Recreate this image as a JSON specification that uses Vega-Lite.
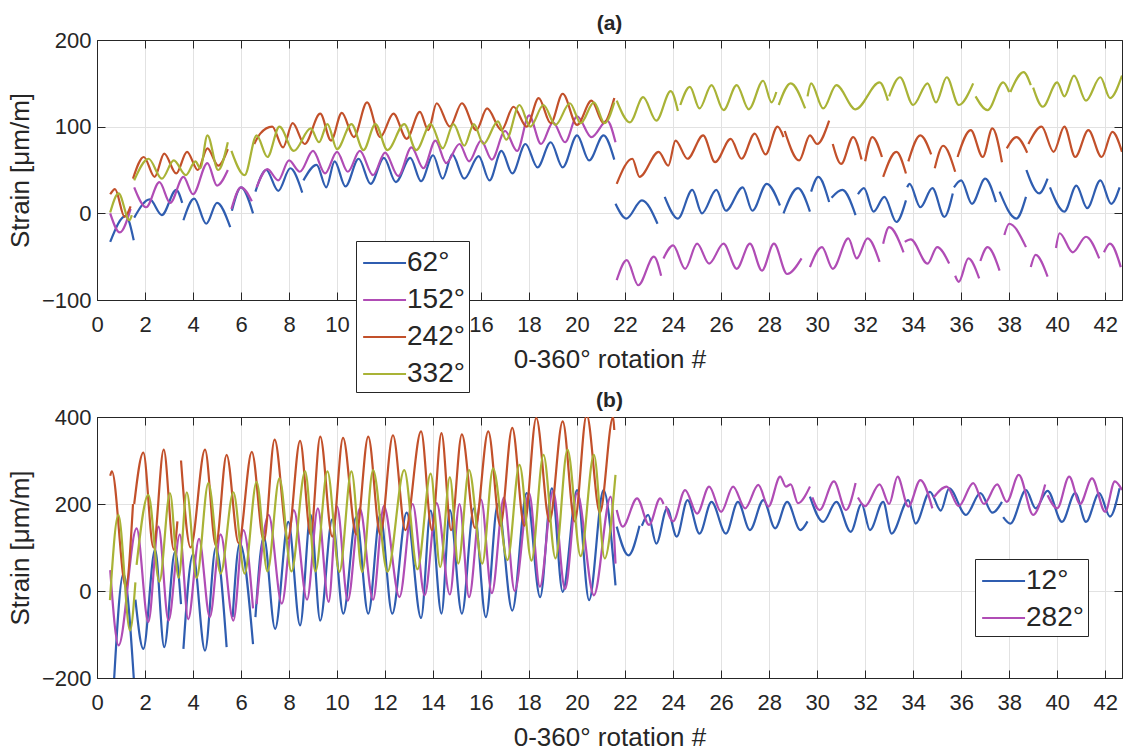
{
"$schema": "https://vega.github.io/schema/vega-lite/v6.json",
"padding": {"left": 6, "top": 12, "right": 5, "bottom": 5},
"spacing": 117,
"bounds": "flush",
"config": {
  "font": "Liberation Sans",
  "view": {"stroke": "#262626", "strokeWidth": 1},
  "axis": {"labelFont": "Liberation Sans", "labelFontSize": 22, "labelColor": "#262626", "titleFont": "Liberation Sans", "titleFontSize": 26, "titleFontWeight": "normal", "titleColor": "#262626", "domainColor": "#262626", "tickColor": "#262626", "tickSize": -8, "gridColor": "#e2e2e2", "gridWidth": 1, "labelPadding": 14, "titlePadding": 8},
  "axisX": {"labelPadding": 22, "titlePadding": 11},
  "title": {"font": "Liberation Sans", "fontSize": 21, "fontWeight": "bold", "color": "#262626", "offset": -5},
  "legend": {"labelFont": "Liberation Sans", "labelColor": "#262626"}
},
"datasets": {
"a": [
{"s":"62°","g":1,"x":0.55,"y":-33},{"s":"62°","g":1,"x":1.2,"y":-3},{"s":"62°","g":1,"x":1.53,"y":-31},
{"s":"62°","g":2,"x":1.55,"y":-5},{"s":"62°","g":2,"x":2.2,"y":16},{"s":"62°","g":2,"x":2.7,"y":-2},{"s":"62°","g":2,"x":3.3,"y":27},{"s":"62°","g":2,"x":3.55,"y":12},
{"s":"62°","g":3,"x":3.6,"y":-8},{"s":"62°","g":3,"x":4.05,"y":17},{"s":"62°","g":3,"x":4.55,"y":-12},{"s":"62°","g":3,"x":5.0,"y":12},{"s":"62°","g":3,"x":5.55,"y":-16},
{"s":"62°","g":4,"x":5.62,"y":3},{"s":"62°","g":4,"x":6.0,"y":30},{"s":"62°","g":4,"x":6.5,"y":0},
{"s":"62°","g":5,"x":6.6,"y":25},{"s":"62°","g":5,"x":7.05,"y":50},{"s":"62°","g":5,"x":7.55,"y":26},{"s":"62°","g":5,"x":8.05,"y":52},{"s":"62°","g":5,"x":8.55,"y":24},
{"s":"62°","g":6,"x":8.6,"y":38},{"s":"62°","g":6,"x":9.15,"y":56},{"s":"62°","g":6,"x":9.55,"y":30},{"s":"62°","g":6,"x":9.9,"y":60},{"s":"62°","g":6,"x":10.35,"y":31},{"s":"62°","g":6,"x":10.9,"y":63},{"s":"62°","g":6,"x":11.4,"y":34},{"s":"62°","g":6,"x":11.95,"y":64},{"s":"62°","g":6,"x":12.45,"y":36},{"s":"62°","g":6,"x":13.05,"y":64},{"s":"62°","g":6,"x":13.5,"y":37},{"s":"62°","g":6,"x":14.0,"y":67},{"s":"62°","g":6,"x":14.4,"y":40},{"s":"62°","g":6,"x":14.8,"y":68},{"s":"62°","g":6,"x":15.3,"y":40},{"s":"62°","g":6,"x":15.9,"y":66},{"s":"62°","g":6,"x":16.35,"y":38},{"s":"62°","g":6,"x":16.85,"y":72},{"s":"62°","g":6,"x":17.3,"y":46},{"s":"62°","g":6,"x":17.85,"y":80},{"s":"62°","g":6,"x":18.35,"y":53},{"s":"62°","g":6,"x":18.9,"y":82},{"s":"62°","g":6,"x":19.4,"y":53},{"s":"62°","g":6,"x":20.0,"y":90},{"s":"62°","g":6,"x":20.5,"y":61},{"s":"62°","g":6,"x":21.1,"y":90},{"s":"62°","g":6,"x":21.55,"y":62},
{"s":"62°","g":7,"x":21.6,"y":11},{"s":"62°","g":7,"x":22.05,"y":-6},{"s":"62°","g":7,"x":22.7,"y":15},{"s":"62°","g":7,"x":23.35,"y":-12},
{"s":"62°","g":8,"x":23.65,"y":19},{"s":"62°","g":8,"x":24.2,"y":-6},{"s":"62°","g":8,"x":24.8,"y":27},{"s":"62°","g":8,"x":25.2,"y":0},{"s":"62°","g":8,"x":25.8,"y":27},{"s":"62°","g":8,"x":26.2,"y":3},{"s":"62°","g":8,"x":26.9,"y":30},{"s":"62°","g":8,"x":27.3,"y":3},{"s":"62°","g":8,"x":27.9,"y":34},{"s":"62°","g":8,"x":28.45,"y":9},
{"s":"62°","g":9,"x":28.6,"y":0},{"s":"62°","g":9,"x":29.2,"y":29},{"s":"62°","g":9,"x":29.7,"y":2},
{"s":"62°","g":10,"x":29.75,"y":25},{"s":"62°","g":10,"x":30.05,"y":42},{"s":"62°","g":10,"x":30.5,"y":13},
{"s":"62°","g":11,"x":30.6,"y":18},{"s":"62°","g":11,"x":31.05,"y":27},{"s":"62°","g":11,"x":31.6,"y":-2},
{"s":"62°","g":12,"x":31.7,"y":22},{"s":"62°","g":12,"x":31.95,"y":29},{"s":"62°","g":12,"x":32.35,"y":2},{"s":"62°","g":12,"x":32.8,"y":19},{"s":"62°","g":12,"x":33.3,"y":-10},{"s":"62°","g":12,"x":33.7,"y":15},
{"s":"62°","g":13,"x":33.75,"y":30},{"s":"62°","g":13,"x":33.85,"y":34},{"s":"62°","g":13,"x":34.3,"y":7},{"s":"62°","g":13,"x":34.8,"y":29},{"s":"62°","g":13,"x":35.3,"y":-4},{"s":"62°","g":13,"x":35.65,"y":23},
{"s":"62°","g":14,"x":35.7,"y":30},{"s":"62°","g":14,"x":36.0,"y":38},{"s":"62°","g":14,"x":36.45,"y":11},{"s":"62°","g":14,"x":37.0,"y":40},{"s":"62°","g":14,"x":37.45,"y":13},
{"s":"62°","g":15,"x":37.6,"y":25},{"s":"62°","g":15,"x":38.3,"y":-6},{"s":"62°","g":15,"x":38.7,"y":19},
{"s":"62°","g":16,"x":38.72,"y":50},{"s":"62°","g":16,"x":39.25,"y":23},{"s":"62°","g":16,"x":39.6,"y":40},
{"s":"62°","g":17,"x":39.7,"y":30},{"s":"62°","g":17,"x":40.3,"y":2},{"s":"62°","g":17,"x":40.8,"y":32},{"s":"62°","g":17,"x":41.25,"y":6},{"s":"62°","g":17,"x":41.8,"y":38},{"s":"62°","g":17,"x":42.25,"y":11},{"s":"62°","g":17,"x":42.6,"y":30},

{"s":"152°","g":1,"x":0.55,"y":0},{"s":"152°","g":1,"x":0.95,"y":-22},{"s":"152°","g":1,"x":1.4,"y":5},
{"s":"152°","g":2,"x":1.55,"y":30},{"s":"152°","g":2,"x":2.05,"y":7},{"s":"152°","g":2,"x":2.6,"y":36},{"s":"152°","g":2,"x":3.05,"y":12},{"s":"152°","g":2,"x":3.6,"y":42},{"s":"152°","g":2,"x":4.0,"y":22},{"s":"152°","g":2,"x":4.6,"y":58},{"s":"152°","g":2,"x":5.0,"y":32},{"s":"152°","g":2,"x":5.45,"y":50},
{"s":"152°","g":3,"x":5.6,"y":5},{"s":"152°","g":3,"x":6.0,"y":30},{"s":"152°","g":3,"x":6.45,"y":14},
{"s":"152°","g":4,"x":6.65,"y":30},{"s":"152°","g":4,"x":7.1,"y":51},{"s":"152°","g":4,"x":7.55,"y":38},{"s":"152°","g":4,"x":8.0,"y":61},{"s":"152°","g":4,"x":8.45,"y":48},{"s":"152°","g":4,"x":9.0,"y":72},{"s":"152°","g":4,"x":9.5,"y":46},{"s":"152°","g":4,"x":10.0,"y":71},{"s":"152°","g":4,"x":10.45,"y":48},{"s":"152°","g":4,"x":10.95,"y":72},{"s":"152°","g":4,"x":11.5,"y":44},{"s":"152°","g":4,"x":12.0,"y":70},{"s":"152°","g":4,"x":12.55,"y":43},{"s":"152°","g":4,"x":13.1,"y":76},{"s":"152°","g":4,"x":13.6,"y":52},{"s":"152°","g":4,"x":14.1,"y":84},{"s":"152°","g":4,"x":14.55,"y":58},{"s":"152°","g":4,"x":15.1,"y":80},{"s":"152°","g":4,"x":15.5,"y":60},{"s":"152°","g":4,"x":16.0,"y":84},{"s":"152°","g":4,"x":16.45,"y":62},{"s":"152°","g":4,"x":17.0,"y":95},{"s":"152°","g":4,"x":17.5,"y":72},{"s":"152°","g":4,"x":18.0,"y":113},{"s":"152°","g":4,"x":18.5,"y":80},{"s":"152°","g":4,"x":19.0,"y":105},{"s":"152°","g":4,"x":19.5,"y":82},{"s":"152°","g":4,"x":20.0,"y":112},{"s":"152°","g":4,"x":20.6,"y":88},{"s":"152°","g":4,"x":21.25,"y":107},{"s":"152°","g":4,"x":21.6,"y":82},
{"s":"152°","g":5,"x":21.65,"y":-77},{"s":"152°","g":5,"x":22.07,"y":-54},{"s":"152°","g":5,"x":22.55,"y":-83},{"s":"152°","g":5,"x":23.2,"y":-50},{"s":"152°","g":5,"x":23.5,"y":-72},
{"s":"152°","g":6,"x":23.6,"y":-52},{"s":"152°","g":6,"x":24.0,"y":-37},{"s":"152°","g":6,"x":24.5,"y":-64},{"s":"152°","g":6,"x":25.0,"y":-35},{"s":"152°","g":6,"x":25.5,"y":-58},{"s":"152°","g":6,"x":26.1,"y":-35},{"s":"152°","g":6,"x":26.65,"y":-64},{"s":"152°","g":6,"x":27.2,"y":-35},{"s":"152°","g":6,"x":27.7,"y":-66},{"s":"152°","g":6,"x":28.2,"y":-35},{"s":"152°","g":6,"x":28.75,"y":-70},{"s":"152°","g":6,"x":29.35,"y":-52},
{"s":"152°","g":7,"x":29.7,"y":-62},{"s":"152°","g":7,"x":30.2,"y":-39},{"s":"152°","g":7,"x":30.65,"y":-64},{"s":"152°","g":7,"x":31.3,"y":-29},{"s":"152°","g":7,"x":31.65,"y":-52},{"s":"152°","g":7,"x":32.1,"y":-29},{"s":"152°","g":7,"x":32.6,"y":-56},
{"s":"152°","g":8,"x":32.75,"y":-35},{"s":"152°","g":8,"x":33.0,"y":-16},{"s":"152°","g":8,"x":33.6,"y":-45},
{"s":"152°","g":9,"x":33.65,"y":-33},{"s":"152°","g":9,"x":33.9,"y":-30},{"s":"152°","g":9,"x":34.6,"y":-58},{"s":"152°","g":9,"x":35.0,"y":-39},{"s":"152°","g":9,"x":35.5,"y":-58},
{"s":"152°","g":10,"x":35.75,"y":-72},{"s":"152°","g":10,"x":35.9,"y":-79},{"s":"152°","g":10,"x":36.3,"y":-52},{"s":"152°","g":10,"x":36.75,"y":-75},
{"s":"152°","g":11,"x":36.8,"y":-55},{"s":"152°","g":11,"x":37.1,"y":-39},{"s":"152°","g":11,"x":37.6,"y":-66},
{"s":"152°","g":12,"x":37.8,"y":-25},{"s":"152°","g":12,"x":38.0,"y":-12},{"s":"152°","g":12,"x":38.7,"y":-39},
{"s":"152°","g":13,"x":38.9,"y":-62},{"s":"152°","g":13,"x":39.1,"y":-48},{"s":"152°","g":13,"x":39.6,"y":-73},
{"s":"152°","g":14,"x":39.95,"y":-40},{"s":"152°","g":14,"x":40.1,"y":-23},{"s":"152°","g":14,"x":40.65,"y":-45},{"s":"152°","g":14,"x":41.2,"y":-27},{"s":"152°","g":14,"x":41.75,"y":-52},
{"s":"152°","g":15,"x":41.95,"y":-45},{"s":"152°","g":15,"x":42.2,"y":-35},{"s":"152°","g":15,"x":42.65,"y":-62},

{"s":"242°","g":1,"x":0.55,"y":22},{"s":"242°","g":1,"x":0.75,"y":28},{"s":"242°","g":1,"x":1.15,"y":-4},{"s":"242°","g":1,"x":1.4,"y":8},
{"s":"242°","g":2,"x":1.5,"y":40},{"s":"242°","g":2,"x":1.95,"y":65},{"s":"242°","g":2,"x":2.4,"y":42},{"s":"242°","g":2,"x":2.8,"y":69},{"s":"242°","g":2,"x":3.3,"y":46},{"s":"242°","g":2,"x":3.75,"y":71},{"s":"242°","g":2,"x":4.2,"y":50},{"s":"242°","g":2,"x":4.6,"y":75},{"s":"242°","g":2,"x":5.05,"y":55},{"s":"242°","g":2,"x":5.45,"y":74},
{"s":"242°","g":3,"x":6.55,"y":80},{"s":"242°","g":3,"x":6.8,"y":92},{"s":"242°","g":3,"x":7.3,"y":100},{"s":"242°","g":3,"x":7.75,"y":76},{"s":"242°","g":3,"x":8.15,"y":104},{"s":"242°","g":3,"x":8.65,"y":80},{"s":"242°","g":3,"x":9.3,"y":115},{"s":"242°","g":3,"x":9.75,"y":84},{"s":"242°","g":3,"x":10.2,"y":116},{"s":"242°","g":3,"x":10.7,"y":88},{"s":"242°","g":3,"x":11.25,"y":128},{"s":"242°","g":3,"x":11.8,"y":88},{"s":"242°","g":3,"x":12.35,"y":115},{"s":"242°","g":3,"x":12.9,"y":86},{"s":"242°","g":3,"x":13.45,"y":117},{"s":"242°","g":3,"x":13.8,"y":96},{"s":"242°","g":3,"x":14.15,"y":127},{"s":"242°","g":3,"x":14.7,"y":100},{"s":"242°","g":3,"x":15.2,"y":127},{"s":"242°","g":3,"x":15.8,"y":96},{"s":"242°","g":3,"x":16.25,"y":121},{"s":"242°","g":3,"x":16.85,"y":96},{"s":"242°","g":3,"x":17.35,"y":123},{"s":"242°","g":3,"x":17.9,"y":100},{"s":"242°","g":3,"x":18.4,"y":133},{"s":"242°","g":3,"x":18.9,"y":104},{"s":"242°","g":3,"x":19.4,"y":138},{"s":"242°","g":3,"x":20.0,"y":102},{"s":"242°","g":3,"x":20.6,"y":130},{"s":"242°","g":3,"x":21.1,"y":104},{"s":"242°","g":3,"x":21.55,"y":133},
{"s":"242°","g":4,"x":21.65,"y":34},{"s":"242°","g":4,"x":22.3,"y":63},{"s":"242°","g":4,"x":22.6,"y":42},{"s":"242°","g":4,"x":23.4,"y":71},{"s":"242°","g":4,"x":23.8,"y":55},{"s":"242°","g":4,"x":24.1,"y":84},{"s":"242°","g":4,"x":24.6,"y":63},{"s":"242°","g":4,"x":25.25,"y":90},{"s":"242°","g":4,"x":25.75,"y":59},{"s":"242°","g":4,"x":26.4,"y":86},{"s":"242°","g":4,"x":26.85,"y":63},{"s":"242°","g":4,"x":27.4,"y":92},{"s":"242°","g":4,"x":27.85,"y":68},{"s":"242°","g":4,"x":28.35,"y":100},{"s":"242°","g":4,"x":28.6,"y":88},
{"s":"242°","g":5,"x":28.65,"y":95},{"s":"242°","g":5,"x":29.25,"y":61},{"s":"242°","g":5,"x":29.7,"y":90},{"s":"242°","g":5,"x":30.0,"y":80},{"s":"242°","g":5,"x":30.5,"y":107},
{"s":"242°","g":6,"x":30.65,"y":80},{"s":"242°","g":6,"x":31.0,"y":57},{"s":"242°","g":6,"x":31.5,"y":88},{"s":"242°","g":6,"x":31.85,"y":62},
{"s":"242°","g":7,"x":32.0,"y":60},{"s":"242°","g":7,"x":32.3,"y":88},{"s":"242°","g":7,"x":32.7,"y":65},
{"s":"242°","g":8,"x":32.75,"y":42},{"s":"242°","g":8,"x":33.3,"y":71},{"s":"242°","g":8,"x":33.7,"y":46},
{"s":"242°","g":9,"x":33.8,"y":60},{"s":"242°","g":9,"x":34.3,"y":90},{"s":"242°","g":9,"x":34.75,"y":68},
{"s":"242°","g":10,"x":34.9,"y":52},{"s":"242°","g":10,"x":35.25,"y":78},{"s":"242°","g":10,"x":35.75,"y":48},
{"s":"242°","g":11,"x":35.85,"y":65},{"s":"242°","g":11,"x":36.4,"y":96},{"s":"242°","g":11,"x":36.9,"y":65},{"s":"242°","g":11,"x":37.3,"y":98},{"s":"242°","g":11,"x":37.7,"y":59},
{"s":"242°","g":12,"x":37.9,"y":75},{"s":"242°","g":12,"x":38.3,"y":88},{"s":"242°","g":12,"x":38.75,"y":70},
{"s":"242°","g":13,"x":38.8,"y":80},{"s":"242°","g":13,"x":39.35,"y":100},{"s":"242°","g":13,"x":39.85,"y":71},{"s":"242°","g":13,"x":40.3,"y":100},{"s":"242°","g":13,"x":40.75,"y":65},{"s":"242°","g":13,"x":41.3,"y":96},{"s":"242°","g":13,"x":41.85,"y":65},{"s":"242°","g":13,"x":42.3,"y":94},{"s":"242°","g":13,"x":42.7,"y":71},

{"s":"332°","g":1,"x":0.55,"y":1},{"s":"332°","g":1,"x":0.9,"y":23},{"s":"332°","g":1,"x":1.35,"y":-8},{"s":"332°","g":1,"x":1.45,"y":-2},
{"s":"332°","g":2,"x":1.55,"y":38},{"s":"332°","g":2,"x":2.15,"y":63},{"s":"332°","g":2,"x":2.7,"y":40},{"s":"332°","g":2,"x":3.2,"y":61},{"s":"332°","g":2,"x":3.7,"y":44},{"s":"332°","g":2,"x":4.1,"y":60},{"s":"332°","g":2,"x":4.3,"y":52},{"s":"332°","g":2,"x":4.6,"y":90},{"s":"332°","g":2,"x":5.05,"y":50},{"s":"332°","g":2,"x":5.45,"y":82},
{"s":"332°","g":3,"x":5.6,"y":72},{"s":"332°","g":3,"x":6.15,"y":44},{"s":"332°","g":3,"x":6.65,"y":90},{"s":"332°","g":3,"x":7.1,"y":65},{"s":"332°","g":3,"x":7.6,"y":100},{"s":"332°","g":3,"x":8.2,"y":72},{"s":"332°","g":3,"x":8.9,"y":98},{"s":"332°","g":3,"x":9.25,"y":82},{"s":"332°","g":3,"x":9.6,"y":103},{"s":"332°","g":3,"x":10.0,"y":74},{"s":"332°","g":3,"x":10.6,"y":103},{"s":"332°","g":3,"x":11.1,"y":73},{"s":"332°","g":3,"x":11.6,"y":103},{"s":"332°","g":3,"x":12.1,"y":73},{"s":"332°","g":3,"x":12.8,"y":103},{"s":"332°","g":3,"x":13.3,"y":73},{"s":"332°","g":3,"x":13.9,"y":103},{"s":"332°","g":3,"x":14.4,"y":75},{"s":"332°","g":3,"x":14.85,"y":103},{"s":"332°","g":3,"x":15.3,"y":78},{"s":"332°","g":3,"x":15.7,"y":103},{"s":"332°","g":3,"x":16.1,"y":80},{"s":"332°","g":3,"x":16.7,"y":106},{"s":"332°","g":3,"x":17.05,"y":85},{"s":"332°","g":3,"x":17.6,"y":125},{"s":"332°","g":3,"x":18.05,"y":100},{"s":"332°","g":3,"x":18.6,"y":125},{"s":"332°","g":3,"x":19.1,"y":102},{"s":"332°","g":3,"x":19.7,"y":127},{"s":"332°","g":3,"x":20.15,"y":104},{"s":"332°","g":3,"x":20.7,"y":128},{"s":"332°","g":3,"x":21.15,"y":104},{"s":"332°","g":3,"x":21.55,"y":128},
{"s":"332°","g":4,"x":21.65,"y":130},{"s":"332°","g":4,"x":22.2,"y":105},{"s":"332°","g":4,"x":22.75,"y":134},{"s":"332°","g":4,"x":23.3,"y":107},{"s":"332°","g":4,"x":23.9,"y":141},{"s":"332°","g":4,"x":24.2,"y":118},
{"s":"332°","g":5,"x":24.3,"y":125},{"s":"332°","g":5,"x":24.7,"y":146},{"s":"332°","g":5,"x":25.1,"y":121},{"s":"332°","g":5,"x":25.6,"y":148},{"s":"332°","g":5,"x":26.1,"y":119},{"s":"332°","g":5,"x":26.65,"y":148},{"s":"332°","g":5,"x":27.15,"y":120},{"s":"332°","g":5,"x":27.75,"y":153},{"s":"332°","g":5,"x":28.1,"y":128},{"s":"332°","g":5,"x":28.3,"y":140},
{"s":"332°","g":6,"x":28.4,"y":125},{"s":"332°","g":6,"x":28.9,"y":150},{"s":"332°","g":6,"x":29.5,"y":121},
{"s":"332°","g":7,"x":29.6,"y":135},{"s":"332°","g":7,"x":29.75,"y":150},{"s":"332°","g":7,"x":30.25,"y":121},{"s":"332°","g":7,"x":30.8,"y":148},{"s":"332°","g":7,"x":31.6,"y":120},{"s":"332°","g":7,"x":32.6,"y":151},{"s":"332°","g":7,"x":32.95,"y":130},
{"s":"332°","g":8,"x":33.0,"y":135},{"s":"332°","g":8,"x":33.45,"y":157},{"s":"332°","g":8,"x":34.0,"y":125},{"s":"332°","g":8,"x":34.6,"y":150},{"s":"332°","g":8,"x":34.95,"y":128},{"s":"332°","g":8,"x":35.4,"y":157},{"s":"332°","g":8,"x":35.9,"y":125},{"s":"332°","g":8,"x":36.5,"y":150},
{"s":"332°","g":9,"x":36.6,"y":135},{"s":"332°","g":9,"x":37.1,"y":119},{"s":"332°","g":9,"x":37.75,"y":151},{"s":"332°","g":9,"x":38.0,"y":140},
{"s":"332°","g":10,"x":38.05,"y":140},{"s":"332°","g":10,"x":38.6,"y":163},{"s":"332°","g":10,"x":38.9,"y":148},
{"s":"332°","g":11,"x":39.0,"y":145},{"s":"332°","g":11,"x":39.4,"y":123},{"s":"332°","g":11,"x":40.0,"y":151},{"s":"332°","g":11,"x":40.3,"y":135},{"s":"332°","g":11,"x":40.7,"y":159},{"s":"332°","g":11,"x":41.2,"y":130},{"s":"332°","g":11,"x":41.8,"y":157},{"s":"332°","g":11,"x":42.2,"y":133},{"s":"332°","g":11,"x":42.7,"y":159}
],
"b": [
{"s":"12°","g":1,"x":0.7,"y":-215},{"s":"12°","g":1,"x":1.1,"y":40},{"s":"12°","g":1,"x":1.55,"y":-215},
{"s":"12°","g":2,"x":1.6,"y":-20},{"s":"12°","g":2,"x":1.93,"y":-133},{"s":"12°","g":2,"x":2.42,"y":95},{"s":"12°","g":2,"x":2.8,"y":-129},{"s":"12°","g":2,"x":3.25,"y":90},{"s":"12°","g":2,"x":3.5,"y":-30},
{"s":"12°","g":3,"x":3.6,"y":-133},{"s":"12°","g":3,"x":4.0,"y":85},{"s":"12°","g":3,"x":4.5,"y":-137},{"s":"12°","g":3,"x":4.95,"y":100},{"s":"12°","g":3,"x":5.4,"y":-129},
{"s":"12°","g":4,"x":5.65,"y":-60},{"s":"12°","g":4,"x":5.95,"y":110},{"s":"12°","g":4,"x":6.5,"y":-122},
{"s":"12°","g":5,"x":6.6,"y":-60},{"s":"12°","g":5,"x":6.95,"y":125},{"s":"12°","g":5,"x":7.42,"y":-87},{"s":"12°","g":5,"x":7.97,"y":159},{"s":"12°","g":5,"x":8.46,"y":-79},{"s":"12°","g":5,"x":8.9,"y":175},{"s":"12°","g":5,"x":9.3,"y":-68},{"s":"12°","g":5,"x":9.8,"y":165},{"s":"12°","g":5,"x":10.26,"y":-52},{"s":"12°","g":5,"x":10.8,"y":170},{"s":"12°","g":5,"x":11.3,"y":-52},{"s":"12°","g":5,"x":11.8,"y":175},{"s":"12°","g":5,"x":12.3,"y":-52},{"s":"12°","g":5,"x":12.9,"y":180},{"s":"12°","g":5,"x":13.5,"y":-62},{"s":"12°","g":5,"x":13.9,"y":185},{"s":"12°","g":5,"x":14.35,"y":-52},{"s":"12°","g":5,"x":14.7,"y":186},{"s":"12°","g":5,"x":15.2,"y":-52},{"s":"12°","g":5,"x":15.7,"y":190},{"s":"12°","g":5,"x":16.2,"y":-60},{"s":"12°","g":5,"x":16.7,"y":200},{"s":"12°","g":5,"x":17.3,"y":-45},{"s":"12°","g":5,"x":17.9,"y":225},{"s":"12°","g":5,"x":18.46,"y":-14},{"s":"12°","g":5,"x":18.95,"y":236},{"s":"12°","g":5,"x":19.4,"y":-2},{"s":"12°","g":5,"x":20.0,"y":232},{"s":"12°","g":5,"x":20.5,"y":-21},{"s":"12°","g":5,"x":21.1,"y":232},{"s":"12°","g":5,"x":21.6,"y":13},
{"s":"12°","g":6,"x":21.65,"y":148},{"s":"12°","g":6,"x":22.14,"y":82},{"s":"12°","g":6,"x":22.6,"y":150},
{"s":"12°","g":7,"x":22.7,"y":150},{"s":"12°","g":7,"x":22.96,"y":175},{"s":"12°","g":7,"x":23.3,"y":109},{"s":"12°","g":7,"x":23.75,"y":190},{"s":"12°","g":7,"x":24.15,"y":125},{"s":"12°","g":7,"x":24.6,"y":209},{"s":"12°","g":7,"x":25.1,"y":132},{"s":"12°","g":7,"x":25.6,"y":205},{"s":"12°","g":7,"x":26.2,"y":132},{"s":"12°","g":7,"x":26.7,"y":205},{"s":"12°","g":7,"x":27.2,"y":140},{"s":"12°","g":7,"x":27.76,"y":209},{"s":"12°","g":7,"x":28.25,"y":144},{"s":"12°","g":7,"x":28.75,"y":205},{"s":"12°","g":7,"x":29.3,"y":140},{"s":"12°","g":7,"x":29.6,"y":160},
{"s":"12°","g":8,"x":29.7,"y":217},{"s":"12°","g":8,"x":30.25,"y":159},{"s":"12°","g":8,"x":30.8,"y":205},{"s":"12°","g":8,"x":31.4,"y":136},{"s":"12°","g":8,"x":31.85,"y":200},{"s":"12°","g":8,"x":32.2,"y":140},{"s":"12°","g":8,"x":32.75,"y":205},{"s":"12°","g":8,"x":33.1,"y":132},{"s":"12°","g":8,"x":33.8,"y":209},{"s":"12°","g":8,"x":34.1,"y":155},{"s":"12°","g":8,"x":34.7,"y":228},{"s":"12°","g":8,"x":35.15,"y":185},{"s":"12°","g":8,"x":35.5,"y":236},{"s":"12°","g":8,"x":36.2,"y":175},{"s":"12°","g":8,"x":36.8,"y":225},{"s":"12°","g":8,"x":37.3,"y":180},{"s":"12°","g":8,"x":37.7,"y":205},
{"s":"12°","g":9,"x":37.75,"y":170},{"s":"12°","g":9,"x":38.05,"y":155},{"s":"12°","g":9,"x":38.7,"y":232},{"s":"12°","g":9,"x":39.1,"y":190},{"s":"12°","g":9,"x":39.6,"y":230},{"s":"12°","g":9,"x":40.2,"y":159},{"s":"12°","g":9,"x":40.75,"y":225},{"s":"12°","g":9,"x":41.2,"y":159},{"s":"12°","g":9,"x":41.75,"y":225},{"s":"12°","g":9,"x":42.2,"y":171},{"s":"12°","g":9,"x":42.6,"y":236},

{"s":"282°","g":1,"x":0.55,"y":48},{"s":"282°","g":1,"x":0.9,"y":-125},{"s":"282°","g":1,"x":1.65,"y":144},{"s":"282°","g":1,"x":2.14,"y":-71},{"s":"282°","g":1,"x":2.56,"y":148},{"s":"282°","g":1,"x":2.98,"y":-68},{"s":"282°","g":1,"x":3.45,"y":130},{"s":"282°","g":1,"x":3.8,"y":-65},{"s":"282°","g":1,"x":4.25,"y":120},{"s":"282°","g":1,"x":4.7,"y":-60},{"s":"282°","g":1,"x":5.15,"y":130},{"s":"282°","g":1,"x":5.68,"y":-68},{"s":"282°","g":1,"x":6.1,"y":140},{"s":"282°","g":1,"x":6.5,"y":-40},
{"s":"282°","g":2,"x":6.65,"y":-30},{"s":"282°","g":2,"x":7.15,"y":175},{"s":"282°","g":2,"x":7.7,"y":-29},{"s":"282°","g":2,"x":8.2,"y":186},{"s":"282°","g":2,"x":8.75,"y":-20},{"s":"282°","g":2,"x":9.2,"y":190},{"s":"282°","g":2,"x":9.65,"y":-25},{"s":"282°","g":2,"x":10.0,"y":194},{"s":"282°","g":2,"x":10.45,"y":-22},{"s":"282°","g":2,"x":10.95,"y":190},{"s":"282°","g":2,"x":11.5,"y":-20},{"s":"282°","g":2,"x":11.95,"y":195},{"s":"282°","g":2,"x":12.6,"y":-14},{"s":"282°","g":2,"x":13.15,"y":200},{"s":"282°","g":2,"x":13.65,"y":-10},{"s":"282°","g":2,"x":14.15,"y":202},{"s":"282°","g":2,"x":14.7,"y":-8},{"s":"282°","g":2,"x":15.1,"y":200},{"s":"282°","g":2,"x":15.5,"y":-14},{"s":"282°","g":2,"x":16.0,"y":210},{"s":"282°","g":2,"x":16.45,"y":-5},{"s":"282°","g":2,"x":16.95,"y":215},{"s":"282°","g":2,"x":17.4,"y":0},{"s":"282°","g":2,"x":18.0,"y":225},{"s":"282°","g":2,"x":18.45,"y":10},{"s":"282°","g":2,"x":19.0,"y":230},{"s":"282°","g":2,"x":19.5,"y":5},{"s":"282°","g":2,"x":20.0,"y":225},{"s":"282°","g":2,"x":20.7,"y":-10},{"s":"282°","g":2,"x":21.4,"y":217},{"s":"282°","g":2,"x":21.6,"y":63},
{"s":"282°","g":3,"x":21.65,"y":186},{"s":"282°","g":3,"x":21.9,"y":148},{"s":"282°","g":3,"x":22.5,"y":213},{"s":"282°","g":3,"x":23.0,"y":152},{"s":"282°","g":3,"x":23.46,"y":213},{"s":"282°","g":3,"x":23.6,"y":200},
{"s":"282°","g":4,"x":23.7,"y":195},{"s":"282°","g":4,"x":24.0,"y":160},{"s":"282°","g":4,"x":24.5,"y":232},{"s":"282°","g":4,"x":25.0,"y":178},{"s":"282°","g":4,"x":25.5,"y":240},{"s":"282°","g":4,"x":26.0,"y":182},{"s":"282°","g":4,"x":26.5,"y":240},{"s":"282°","g":4,"x":27.0,"y":190},{"s":"282°","g":4,"x":27.55,"y":244},{"s":"282°","g":4,"x":27.97,"y":194},{"s":"282°","g":4,"x":28.46,"y":263},{"s":"282°","g":4,"x":28.7,"y":240},{"s":"282°","g":4,"x":28.9,"y":245},{"s":"282°","g":4,"x":29.2,"y":202},{"s":"282°","g":4,"x":29.7,"y":240},
{"s":"282°","g":5,"x":29.8,"y":215},{"s":"282°","g":5,"x":30.1,"y":186},{"s":"282°","g":5,"x":30.7,"y":252},{"s":"282°","g":5,"x":31.2,"y":186},{"s":"282°","g":5,"x":31.6,"y":248},
{"s":"282°","g":6,"x":31.7,"y":215},{"s":"282°","g":6,"x":32.0,"y":195},{"s":"282°","g":6,"x":32.6,"y":245},{"s":"282°","g":6,"x":33.0,"y":200},{"s":"282°","g":6,"x":33.35,"y":263},{"s":"282°","g":6,"x":33.8,"y":194},{"s":"282°","g":6,"x":34.3,"y":255},{"s":"282°","g":6,"x":34.8,"y":190},
{"s":"282°","g":7,"x":34.85,"y":215},{"s":"282°","g":7,"x":35.4,"y":240},{"s":"282°","g":7,"x":35.9,"y":195},{"s":"282°","g":7,"x":36.5,"y":248},{"s":"282°","g":7,"x":36.95,"y":200},{"s":"282°","g":7,"x":37.5,"y":245},{"s":"282°","g":7,"x":37.9,"y":205},{"s":"282°","g":7,"x":38.4,"y":267},{"s":"282°","g":7,"x":39.0,"y":175},{"s":"282°","g":7,"x":39.5,"y":245},
{"s":"282°","g":8,"x":39.6,"y":220},{"s":"282°","g":8,"x":40.0,"y":190},{"s":"282°","g":8,"x":40.5,"y":263},{"s":"282°","g":8,"x":40.95,"y":200},{"s":"282°","g":8,"x":41.45,"y":259},{"s":"282°","g":8,"x":42.0,"y":182},{"s":"282°","g":8,"x":42.4,"y":252},{"s":"282°","g":8,"x":42.7,"y":232},

{"s":"other A","g":1,"x":0.55,"y":265},{"s":"other A","g":1,"x":0.62,"y":275},{"s":"other A","g":1,"x":1.2,"y":10},{"s":"other A","g":1,"x":1.5,"y":200},
{"s":"other A","g":2,"x":1.55,"y":200},{"s":"other A","g":2,"x":1.93,"y":318},{"s":"other A","g":2,"x":2.35,"y":100},{"s":"other A","g":2,"x":2.78,"y":325},{"s":"other A","g":2,"x":3.2,"y":95},{"s":"other A","g":2,"x":3.35,"y":160},
{"s":"other A","g":3,"x":3.5,"y":300},{"s":"other A","g":3,"x":3.9,"y":100},{"s":"other A","g":3,"x":4.5,"y":325},{"s":"other A","g":3,"x":4.95,"y":105},{"s":"other A","g":3,"x":5.4,"y":313},{"s":"other A","g":3,"x":5.9,"y":110},{"s":"other A","g":3,"x":6.45,"y":320},{"s":"other A","g":3,"x":6.95,"y":115},{"s":"other A","g":3,"x":7.4,"y":348},{"s":"other A","g":3,"x":7.95,"y":120},{"s":"other A","g":3,"x":8.46,"y":345},{"s":"other A","g":3,"x":8.9,"y":130},{"s":"other A","g":3,"x":9.3,"y":355},{"s":"other A","g":3,"x":9.8,"y":125},{"s":"other A","g":3,"x":10.25,"y":352},{"s":"other A","g":3,"x":10.8,"y":130},{"s":"other A","g":3,"x":11.3,"y":355},{"s":"other A","g":3,"x":11.8,"y":130},{"s":"other A","g":3,"x":12.33,"y":358},{"s":"other A","g":3,"x":12.85,"y":140},{"s":"other A","g":3,"x":13.5,"y":367},{"s":"other A","g":3,"x":13.95,"y":140},{"s":"other A","g":3,"x":14.35,"y":363},{"s":"other A","g":3,"x":14.75,"y":140},{"s":"other A","g":3,"x":15.2,"y":360},{"s":"other A","g":3,"x":15.75,"y":145},{"s":"other A","g":3,"x":16.3,"y":367},{"s":"other A","g":3,"x":16.8,"y":150},{"s":"other A","g":3,"x":17.3,"y":375},{"s":"other A","g":3,"x":17.8,"y":150},{"s":"other A","g":3,"x":18.3,"y":398},{"s":"other A","g":3,"x":18.85,"y":160},{"s":"other A","g":3,"x":19.4,"y":390},{"s":"other A","g":3,"x":19.9,"y":160},{"s":"other A","g":3,"x":20.4,"y":405},{"s":"other A","g":3,"x":20.95,"y":180},{"s":"other A","g":3,"x":21.5,"y":400},{"s":"other A","g":3,"x":21.55,"y":370},

{"s":"other B","g":1,"x":0.54,"y":-21},{"s":"other B","g":1,"x":0.89,"y":175},{"s":"other B","g":1,"x":1.375,"y":-91},{"s":"other B","g":1,"x":1.6,"y":20},
{"s":"other B","g":2,"x":1.65,"y":60},{"s":"other B","g":2,"x":2.14,"y":221},{"s":"other B","g":2,"x":2.6,"y":21},{"s":"other B","g":2,"x":3.04,"y":225},{"s":"other B","g":2,"x":3.4,"y":30},{"s":"other B","g":2,"x":3.74,"y":227},{"s":"other B","g":2,"x":4.15,"y":30},{"s":"other B","g":2,"x":4.64,"y":248},{"s":"other B","g":2,"x":5.15,"y":40},{"s":"other B","g":2,"x":5.68,"y":227},{"s":"other B","g":2,"x":6.15,"y":40},{"s":"other B","g":2,"x":6.65,"y":251},{"s":"other B","g":2,"x":7.1,"y":45},{"s":"other B","g":2,"x":7.6,"y":259},{"s":"other B","g":2,"x":8.1,"y":45},{"s":"other B","g":2,"x":8.67,"y":275},{"s":"other B","g":2,"x":9.1,"y":45},{"s":"other B","g":2,"x":9.6,"y":275},{"s":"other B","g":2,"x":10.1,"y":44},{"s":"other B","g":2,"x":10.6,"y":275},{"s":"other B","g":2,"x":11.05,"y":44},{"s":"other B","g":2,"x":11.5,"y":278},{"s":"other B","g":2,"x":12.1,"y":44},{"s":"other B","g":2,"x":12.8,"y":278},{"s":"other B","g":2,"x":13.35,"y":50},{"s":"other B","g":2,"x":13.9,"y":270},{"s":"other B","g":2,"x":14.3,"y":55},{"s":"other B","g":2,"x":14.7,"y":262},{"s":"other B","g":2,"x":15.05,"y":63},{"s":"other B","g":2,"x":15.5,"y":278},{"s":"other B","g":2,"x":16.05,"y":63},{"s":"other B","g":2,"x":16.5,"y":282},{"s":"other B","g":2,"x":17.1,"y":71},{"s":"other B","g":2,"x":17.6,"y":290},{"s":"other B","g":2,"x":18.1,"y":70},{"s":"other B","g":2,"x":18.6,"y":313},{"s":"other B","g":2,"x":19.1,"y":75},{"s":"other B","g":2,"x":19.6,"y":325},{"s":"other B","g":2,"x":20.15,"y":80},{"s":"other B","g":2,"x":20.7,"y":313},{"s":"other B","g":2,"x":21.15,"y":75},{"s":"other B","g":2,"x":21.6,"y":267}
]
},
"vconcat": [
{
  "title": {"text": "(a)"},
  "width": 1025, "height": 260,
  "layer": [
    {
      "data": {"name": "a"},
      "mark": {"type": "line", "interpolate": "monotone", "strokeWidth": 2.2, "clip": true},
      "encoding": {
        "x": {"field": "x", "type": "quantitative", "scale": {"domain": [0, 42.7], "nice": false, "zero": false},
              "axis": {"values": [0,2,4,6,8,10,12,14,16,18,20,22,24,26,28,30,32,34,36,38,40,42], "title": "0-360° rotation #", "labelFlush": false}},
        "y": {"field": "y", "type": "quantitative", "scale": {"domain": [-100, 200], "nice": false, "zero": false},
              "axis": {"values": [-100, 0, 100, 200], "title": "Strain [μm/m]"}},
        "color": {"field": "s", "type": "nominal",
                  "scale": {"domain": ["62°", "152°", "242°", "332°"], "range": ["#2F5DB0", "#B04CB5", "#C2502A", "#A9B336"]},
                  "legend": {"orient": "none", "legendX": 259, "legendY": 201, "title": null, "direction": "vertical", "fillColor": "white", "strokeColor": "#262626", "padding": 4, "symbolType": "M-0.9,0H1.7", "symbolSize": 1089, "symbolStrokeWidth": 2.2, "labelFontSize": 28, "labelOffset": 11, "rowPadding": 5, "labelColor": "#262626"}},
        "detail": {"field": "g", "type": "nominal"}
      }
    },
    {
      "data": {"values": [{"x": 0, "y": 0}]},
      "mark": {"type": "point", "opacity": 0},
      "encoding": {
        "x": {"field": "x", "type": "quantitative", "axis": {"orient": "top", "values": [0,2,4,6,8,10,12,14,16,18,20,22,24,26,28,30,32,34,36,38,40,42], "labels": false, "title": null, "grid": false}},
        "y": {"field": "y", "type": "quantitative", "axis": {"orient": "right", "values": [-100, 0, 100, 200], "labels": false, "title": null, "grid": false}}
      }
    }
  ],
  "resolve": {"axis": {"x": "independent", "y": "independent"}}
},
{
  "title": {"text": "(b)"},
  "width": 1025, "height": 261,
  "layer": [
    {
      "data": {"name": "b"},
      "mark": {"type": "line", "interpolate": "monotone", "strokeWidth": 2.2, "clip": true},
      "encoding": {
        "x": {"field": "x", "type": "quantitative", "scale": {"domain": [0, 42.7], "nice": false, "zero": false},
              "axis": {"values": [0,2,4,6,8,10,12,14,16,18,20,22,24,26,28,30,32,34,36,38,40,42], "title": "0-360° rotation #", "labelFlush": false}},
        "y": {"field": "y", "type": "quantitative", "scale": {"domain": [-200, 400], "nice": false, "zero": false},
              "axis": {"values": [-200, 0, 200, 400], "title": "Strain [μm/m]"}},
        "color": {"field": "s", "type": "nominal",
                  "scale": {"domain": ["other A", "other B", "12°", "282°"], "range": ["#C2502A", "#A9B336", "#2F5DB0", "#B04CB5"]},
                  "legend": {"values": ["12°", "282°"], "orient": "none", "legendX": 878, "legendY": 142, "title": null, "direction": "vertical", "fillColor": "white", "strokeColor": "#262626", "padding": 4, "symbolType": "M-0.9,0H1.7", "symbolSize": 1089, "symbolStrokeWidth": 2.2, "labelFontSize": 28, "labelOffset": 11, "rowPadding": 5, "labelColor": "#262626"}},
        "detail": {"field": "g", "type": "nominal"}
      }
    },
    {
      "data": {"values": [{"x": 0, "y": 0}]},
      "mark": {"type": "point", "opacity": 0},
      "encoding": {
        "x": {"field": "x", "type": "quantitative", "axis": {"orient": "top", "values": [0,2,4,6,8,10,12,14,16,18,20,22,24,26,28,30,32,34,36,38,40,42], "labels": false, "title": null, "grid": false}},
        "y": {"field": "y", "type": "quantitative", "axis": {"orient": "right", "values": [-200, 0, 200, 400], "labels": false, "title": null, "grid": false}}
      }
    }
  ],
  "resolve": {"axis": {"x": "independent", "y": "independent"}}
}
],
"resolve": {"scale": {"color": "independent"}}
}
